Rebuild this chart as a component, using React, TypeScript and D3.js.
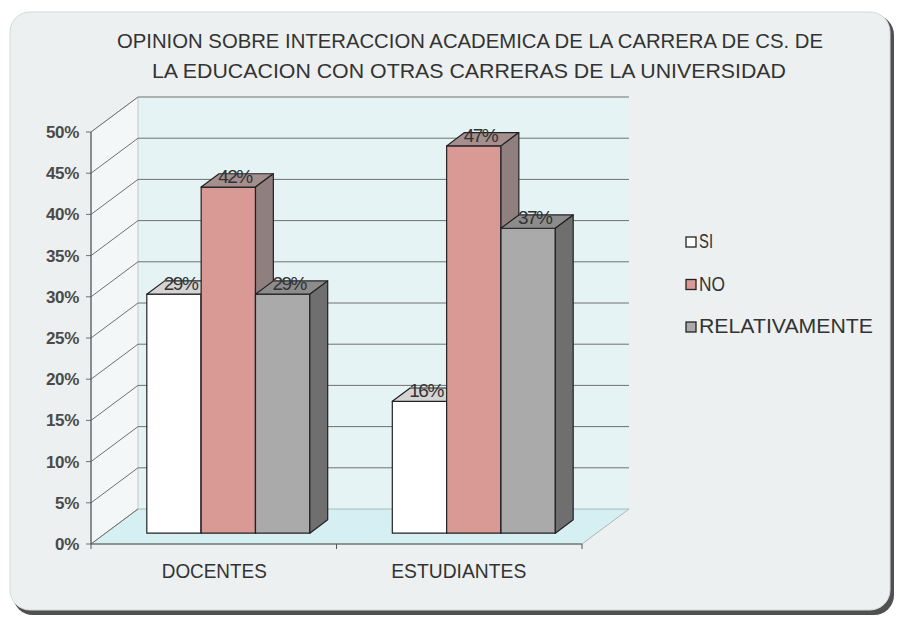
import React from "react";
import * as d3 from "d3";

const categories = ["DOCENTES", "ESTUDIANTES"];
const seriesNames = ["SI", "NO", "RELATIVAMENTE"];
const siValues = [0.29, 0.16];
const noValues = [0.42, 0.47];
const relValues = [0.29, 0.37];
const valueLabels = [["29%", "42%", "29%"], ["16%", "47%", "37%"]];
const yTickValues = [0, 0.05, 0.1, 0.15, 0.2, 0.25, 0.3, 0.35, 0.4, 0.45, 0.5];
const titleLines = [
  "OPINION SOBRE INTERACCION ACADEMICA DE LA CARRERA DE CS. DE",
  "LA EDUCACION CON OTRAS CARRERAS DE LA UNIVERSIDAD",
];

const font = "'Liberation Sans', Arial, sans-serif";
const W = 903,
  H = 620;
const DX = 47,
  DY = 35;
const zFront = 0.31,
  zBack = 0.69;

const fronts = ["#ffffff", "#d99a96", "#aaaaaa"];
const tops = ["#d4d4d4", "#a48e8e", "#8c8c8c"];
const sides = ["#b4b4b4", "#8f7f7f", "#6f6f6f"];

export default function App() {
  const y = d3.scaleLinear().domain([0, 0.5]).range([544, 132]);
  const xCat = d3.scaleBand().domain(categories).range([91, 582]);
  const groupW = xCat.bandwidth() * 0.664;
  const xSer = d3.scaleBand().domain(seriesNames).range([0, groupW]);
  const off = (xCat.bandwidth() - groupW) / 2;

  const proj = (x: number, v: number, z: number): [number, number] => [x + z * DX, y(v) - z * DY];
  const poly = (pts: [number, number][]) => pts.map((p) => p.join(",")).join(" ");

  const x0 = xCat.range()[0],
    x1 = xCat.range()[1];
  const vMax = y.domain()[1];

  const values = [siValues, noValues, relValues];

  const bars: any[] = [];
  const labels: any[] = [];
  categories.forEach((c, ci) => {
    seriesNames.forEach((s, si) => {
      const v = values[si][ci];
      const a = (xCat(c) as number) + off + (xSer(s) as number);
      const b = a + xSer.bandwidth();
      bars.push(
        <g key={c + s} stroke="#222" strokeWidth={1.2} strokeLinejoin="round">
          <polygon points={poly([proj(a, 0, zFront), proj(b, 0, zFront), proj(b, v, zFront), proj(a, v, zFront)])} fill={fronts[si]} />
          <polygon points={poly([proj(a, v, zFront), proj(b, v, zFront), proj(b, v, zBack), proj(a, v, zBack)])} fill={tops[si]} />
          <polygon points={poly([proj(b, 0, zFront), proj(b, 0, zBack), proj(b, v, zBack), proj(b, v, zFront)])} fill={sides[si]} />
        </g>
      );
      const lp = proj((a + b) / 2, v, 0.45);
      labels.push(
        <text key={"l" + c + s} x={lp[0]} y={lp[1] + 1} textAnchor="middle" fontSize={19} fill="#333" letterSpacing={-1.5}>
          {valueLabels[ci][si]}
        </text>
      );
    });
  });

  return (
    <svg width={W} height={H} style={{ position: "absolute", left: 0, top: 0, fontFamily: font }}>
      <rect width={W} height={H} fill="#ffffff" />
      {/* frame with shadow */}
      <rect x={13} y={15} width={881} height={600} rx={20} fill="#505050" />
      <rect x={10} y={12} width={880} height={598} rx={20} fill="#edf0f0" stroke="#d6d9d9" />

      {/* title */}
      {titleLines.map((t, i) => (
        <text
          key={t}
          x={i === 0 ? 117 : 152}
          y={i === 0 ? 48 : 78}
          fontSize={21}
          fill="#333"
          textLength={i === 0 ? 706 : 634}
          lengthAdjust="spacingAndGlyphs"
        >
          {t}
        </text>
      ))}

      {/* walls */}
      <polygon points={poly([proj(x0, 0, 1), proj(x1, 0, 1), proj(x1, vMax, 1), proj(x0, vMax, 1)])} fill="#e5f3f5" />
      <polygon points={poly([proj(x0, 0, 0), proj(x0, 0, 1), proj(x0, vMax, 1), proj(x0, vMax, 0)])} fill="#f3f7f7" stroke="#bbb" strokeWidth={0.8} />
      <polygon points={poly([proj(x0, 0, 0), proj(x1, 0, 0), proj(x1, 0, 1), proj(x0, 0, 1)])} fill="#d6eff2" stroke="#9aa" strokeWidth={0.8} />

      {/* gridlines */}
      {yTickValues.map((t) => {
        const pf = proj(x0, t, 0),
          pb = proj(x0, t, 1),
          pr = proj(x1, t, 1);
        return (
          <g key={t} stroke="#707070" strokeWidth={1}>
            <line x1={pf[0]} y1={pf[1]} x2={pb[0]} y2={pb[1]} />
            {t > 0 && <line x1={pb[0]} y1={pb[1]} x2={pr[0]} y2={pr[1]} />}
            <line x1={pf[0] - 5} y1={pf[1]} x2={pf[0]} y2={pf[1]} />
          </g>
        );
      })}

      {/* axes */}
      <line x1={x0} y1={y(0)} x2={x0} y2={y(vMax)} stroke="#555" strokeWidth={1.2} />
      <line x1={x0} y1={y(0)} x2={x1} y2={y(0)} stroke="#555" strokeWidth={1.2} />
      {[x0, ...categories.map((c) => (xCat(c) as number) + xCat.bandwidth())].map((xx) => (
        <line key={xx} x1={xx} y1={y(0)} x2={xx} y2={y(0) + 5} stroke="#555" />
      ))}

      {yTickValues.map((t) => (
        <text key={"t" + t} x={79} y={y(t) + 6} textAnchor="end" fontSize={17} fontWeight="bold" fill="#4a4a4a" letterSpacing={-0.3}>
          {d3.format(".0%")(t)}
        </text>
      ))}

      {bars}
      {labels}

      {categories.map((c, i) => (
        <text
          key={c}
          x={(xCat(c) as number) + xCat.bandwidth() / 2 - (i === 0 ? 52 : 68)}
          y={578}
          fontSize={20}
          fill="#333"
          textLength={i === 0 ? 105 : 135}
          lengthAdjust="spacingAndGlyphs"
        >
          {c}
        </text>
      ))}

      {/* legend */}
      {seriesNames.map((s, i) => (
        <g key={s} transform={`translate(686, ${237 + i * 42.5})`}>
          <rect x={0} y={0} width={10} height={10} fill={fronts[i]} stroke="#222" strokeWidth={1.3} />
          <text
            x={13}
            y={11}
            fontSize={20}
            fill="#333"
            textLength={i === 0 ? 14 : i === 1 ? 26 : 174}
            lengthAdjust="spacingAndGlyphs"
          >
            {s}
          </text>
        </g>
      ))}
    </svg>
  );
}
